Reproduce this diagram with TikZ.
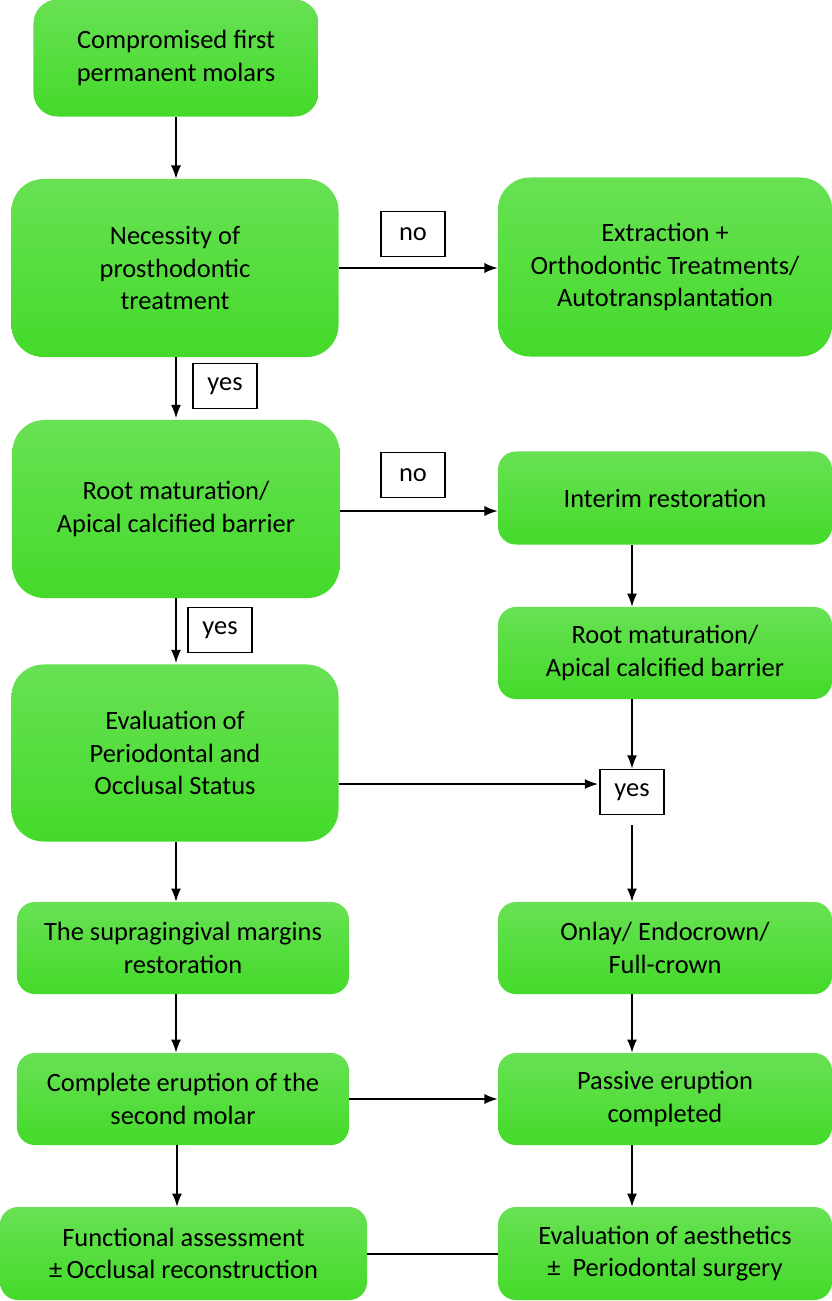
\documentclass[tikz,border=0pt]{standalone}
\usepackage{fontspec}
\setmainfont{Carlito}
\usetikzlibrary{arrows.meta}
\definecolor{boxtop}{RGB}{104,225,84}
\definecolor{boxbot}{RGB}{68,218,42}
\begin{document}
\begin{tikzpicture}
    [
    x=0.025cm,y=-0.025cm,
    step box/.style={rectangle,rounded corners=0.45cm,top color=boxtop,bottom color=boxbot,draw=none,
      align=center,inner sep=0pt,font=\fontsize{18.8}{23}\selectfont},
    tall box/.style={step box,rounded corners=0.8cm},
    answer/.style={rectangle,draw,line width=1.3pt,minimum width=1.6cm,minimum height=1.125cm,
      inner sep=0pt,font=\fontsize{18.8}{23}\selectfont},
    arr/.style={line width=1pt,-{Latex[length=3.3mm,width=2.5mm]}}
    ]
    \useasboundingbox (0,0) rectangle (832,1301);
    \node (molars) at (176,58) [tall box,minimum width=7.125cm,minimum height=2.925cm,rounded corners=0.6cm]
      {Compromised first\\permanent molars};
    \node (need) at (175,268) [tall box,minimum width=8.175cm,minimum height=4.45cm]
      {Necessity of\\prosthodontic\\treatment};
    \node (extract) at (665,267) [tall box,minimum width=8.35cm,minimum height=4.475cm]
      {Extraction +\\Orthodontic Treatments/\\Autotransplantation};
    \node (rootl) at (176,509) [tall box,minimum width=8.175cm,minimum height=4.45cm]
      {Root maturation/\\Apical calcified barrier};
    \node (interim) at (665,498) [step box,minimum width=8.35cm,minimum height=2.325cm]
      {Interim restoration};
    \node (rootr) at (665,653) [step box,minimum width=8.35cm,minimum height=2.3cm]
      {Root maturation/\\Apical calcified barrier};
    \node (status) at (175,753) [tall box,minimum width=8.175cm,minimum height=4.425cm]
      {Evaluation of\\Periodontal and\\Occlusal Status};
    \node (margins) at (183,948) [step box,minimum width=8.3cm,minimum height=2.3cm]
      {The supragingival margins\\restoration};
    \node (onlay) at (665,948) [step box,minimum width=8.35cm,minimum height=2.3cm]
      {Onlay/ Endocrown/\\Full-crown};
    \node (second) at (183,1099) [step box,minimum width=8.3cm,minimum height=2.3cm]
      {Complete eruption of the\\second molar};
    \node (passive) at (665,1099) [step box,minimum width=8.35cm,minimum height=2.3cm]
      {Passive eruption\\completed};
    \node (function) at (183.5,1253.5) [step box,minimum width=9.175cm,minimum height=2.325cm]
      {Functional assessment\\±\,Occlusal reconstruction};
    \node (aesthetic) at (665,1253.5) [step box,minimum width=8.35cm,minimum height=2.325cm]
      {Evaluation of aesthetics\\±\ \ Periodontal surgery};
    % answer boxes
    \node (no1) at (413,234) [answer] {no};
    \node (yes1) at (225,386) [answer] {yes};
    \node (no2) at (413,475) [answer] {no};
    \node (yes2) at (220,630) [answer] {yes};
    \node (yes3) at (632,792) [answer] {yes};
    \coordinate (yin) at (598,784);
    % connectors
    \draw [arr] (molars.south) -- (molars.south |- need.north);
    \draw [arr] (need.east) -- (need.east -| extract.west);
    \draw [arr] (need.south -| 176,0) -- (176,418);
    \draw [arr] (rootl.east |- 0,511) -- (interim.west |- 0,511);
    \draw [arr] (rootl.south -| 176,0) -- (176,663);
    \draw [arr] (interim.south -| yes3) -- (rootr.north -| yes3);
    \draw [arr] (rootr.south -| yes3) -- (yes3.north);
    \draw [arr] (status.east |- yin) -- (yin);
    \draw [arr] ([yshift=-0.25cm]yes3.south) -- (onlay.north -| yes3);
    \draw [arr] (status.south -| 176,0) -- (margins.north -| 176,0);
    \draw [arr] (margins.south -| 176,0) -- (second.north -| 176,0);
    \draw [arr] (second.east) -- (passive.west);
    \draw [arr] (onlay.south -| yes3) -- (passive.north -| yes3);
    \draw [arr] (second.south -| 177,0) -- (function.north -| 177,0);
    \draw [arr] (passive.south -| yes3) -- (aesthetic.north -| yes3);
    \draw [line width=1.4pt] (function.east) -- (aesthetic.west);
\end{tikzpicture}
\end{document}
